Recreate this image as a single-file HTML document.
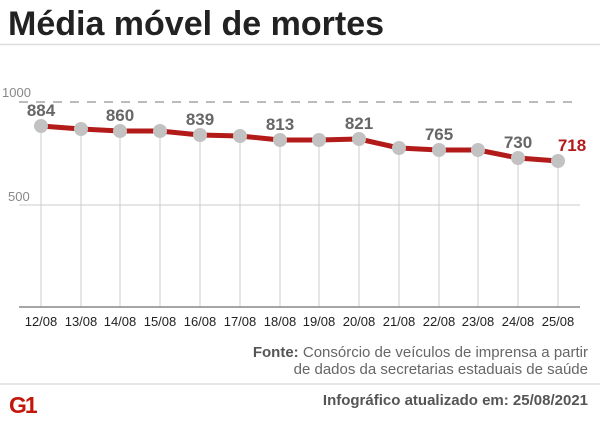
<!DOCTYPE html>
<html><head><meta charset="utf-8"><style>
html,body{margin:0;padding:0;background:#fff;}
body{width:600px;height:431px;overflow:hidden;font-family:"Liberation Sans",sans-serif;}
</style></head><body>
<svg width="600" height="431" viewBox="0 0 600 431" xmlns="http://www.w3.org/2000/svg" font-family="Liberation Sans, sans-serif">
<text x="8" y="35" font-size="34" font-weight="bold" fill="#222">Média móvel de mortes</text>
<line x1="0" y1="44.5" x2="600" y2="44.5" stroke="#ddd" stroke-width="1.5"/>
<text x="2" y="97" font-size="13" fill="#888">1000</text>
<line x1="19" y1="102" x2="580" y2="102" stroke="#777" stroke-width="1" stroke-dasharray="9,8"/>
<text x="8" y="201" font-size="13" fill="#888">500</text>
<line x1="19" y1="205" x2="580" y2="205" stroke="#ccc" stroke-width="1"/>
<g stroke="#ccc" stroke-width="1">
<line x1="41" y1="126" x2="41" y2="307"/><line x1="81" y1="129" x2="81" y2="307"/><line x1="120" y1="131" x2="120" y2="307"/><line x1="160" y1="131" x2="160" y2="307"/><line x1="200" y1="135" x2="200" y2="307"/><line x1="240" y1="136" x2="240" y2="307"/><line x1="280" y1="140" x2="280" y2="307"/><line x1="319" y1="140" x2="319" y2="307"/><line x1="359" y1="139" x2="359" y2="307"/><line x1="399" y1="148" x2="399" y2="307"/><line x1="439" y1="150" x2="439" y2="307"/><line x1="478" y1="150" x2="478" y2="307"/><line x1="518" y1="158" x2="518" y2="307"/><line x1="558" y1="161" x2="558" y2="307"/>
</g>
<line x1="19" y1="307" x2="580" y2="307" stroke="#888" stroke-width="1.5"/>
<polyline fill="none" stroke="#b31b1b" stroke-width="5" stroke-linejoin="round" points="41,126 81,129 120,131 160,131 200,135 240,136 280,140 319,140 359,139 399,148 439,150 478,150 518,158 558,161"/>
<g fill="#c2c2c2">
<circle cx="41" cy="126" r="7"/><circle cx="81" cy="129" r="7"/><circle cx="120" cy="131" r="7"/><circle cx="160" cy="131" r="7"/><circle cx="200" cy="135" r="7"/><circle cx="240" cy="136" r="7"/><circle cx="280" cy="140" r="7"/><circle cx="319" cy="140" r="7"/><circle cx="359" cy="139" r="7"/><circle cx="399" cy="148" r="7"/><circle cx="439" cy="150" r="7"/><circle cx="478" cy="150" r="7"/><circle cx="518" cy="158" r="7"/><circle cx="558" cy="161" r="7"/>
</g>
<g font-size="17" font-weight="bold" fill="#666" text-anchor="middle">
<text x="41" y="116">884</text><text x="120" y="121">860</text><text x="200" y="125">839</text><text x="280" y="130">813</text><text x="359" y="129">821</text><text x="439" y="140">765</text><text x="518" y="148">730</text>
</g>
<text x="572" y="151" font-size="17" font-weight="bold" fill="#b31b1b" text-anchor="middle">718</text>
<g font-size="13" fill="#222" text-anchor="middle">
<text x="41" y="326">12/08</text><text x="81" y="326">13/08</text><text x="120" y="326">14/08</text><text x="160" y="326">15/08</text><text x="200" y="326">16/08</text><text x="240" y="326">17/08</text><text x="280" y="326">18/08</text><text x="319" y="326">19/08</text><text x="359" y="326">20/08</text><text x="399" y="326">21/08</text><text x="439" y="326">22/08</text><text x="478" y="326">23/08</text><text x="518" y="326">24/08</text><text x="558" y="326">25/08</text>
</g>
<g font-size="15" fill="#666" text-anchor="end">
<text x="588" y="357"><tspan font-weight="bold" fill="#555">Fonte:</tspan> Consórcio de veículos de imprensa a partir</text>
<text x="588" y="374">de dados da secretarias estaduais de saúde</text>
</g>
<line x1="0" y1="384" x2="600" y2="384" stroke="#ddd" stroke-width="1.5"/>
<text x="588" y="405" font-size="15" font-weight="bold" fill="#555" text-anchor="end">Infográfico atualizado em: 25/08/2021</text>
<text x="9" y="413" font-size="23" font-weight="bold" fill="#c4170c" letter-spacing="-2">G1</text>
</svg>
</body></html>
